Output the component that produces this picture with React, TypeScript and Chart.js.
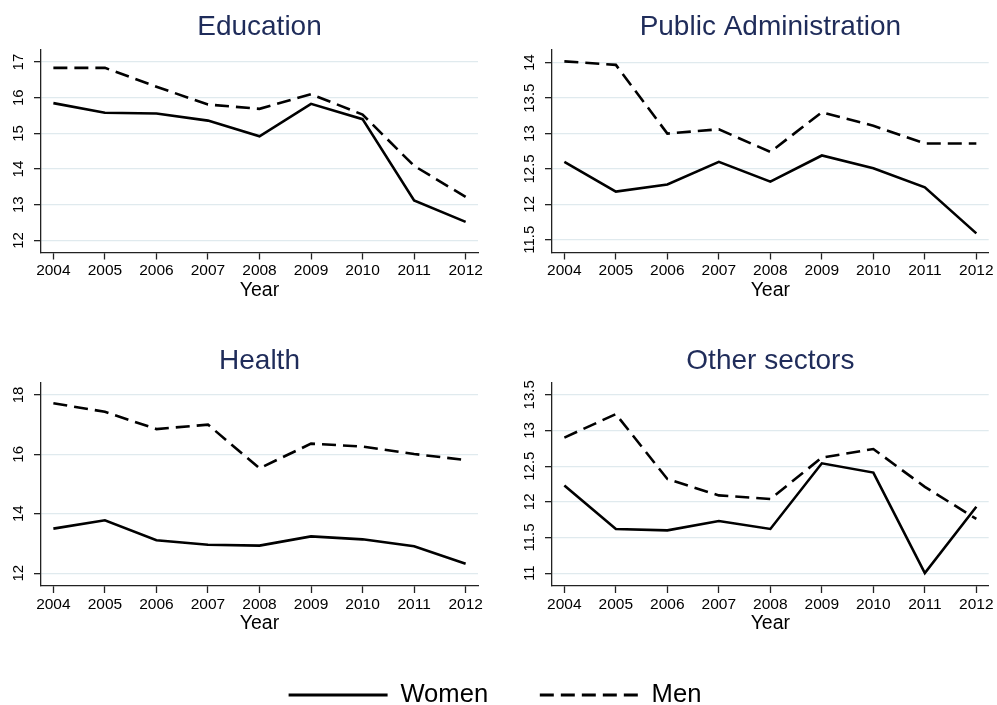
import React, { useEffect, useRef } from "react";
import { Chart, registerables } from "chart.js";

Chart.register(...registerables);

const FONT = "'Liberation Sans', Arial, Helvetica, sans-serif";
Chart.defaults.font.family = FONT;
Chart.defaults.color = "#000";

// ---------- data ----------
const years = [2004, 2005, 2006, 2007, 2008, 2009, 2010, 2011, 2012];
const seriesLabels = ["Women", "Men"];
const xAxisTitle = "Year";

const educationWomen = [15.85, 15.58, 15.56, 15.36, 14.92, 15.83, 15.4, 13.12, 12.52];
const educationMen = [16.84, 16.84, 16.31, 15.81, 15.69, 16.1, 15.53, 14.09, 13.22];
const educationTicks = [12, 13, 14, 15, 16, 17];

const publicAdminWomen = [12.6, 12.18, 12.28, 12.6, 12.32, 12.69, 12.51, 12.24, 11.59];
const publicAdminMen = [14.02, 13.97, 13.0, 13.06, 12.74, 13.3, 13.11, 12.86, 12.86];
const publicAdminTicks = [11.5, 12, 12.5, 13, 13.5, 14];

const healthWomen = [13.5, 13.78, 13.11, 12.96, 12.93, 13.24, 13.14, 12.91, 12.32];
const healthMen = [17.72, 17.43, 16.85, 17.0, 15.53, 16.36, 16.26, 16.01, 15.81];
const healthTicks = [12, 14, 16, 18];

const otherWomen = [12.23, 11.62, 11.6, 11.73, 11.62, 12.54, 12.41, 11.0, 11.93];
const otherMen = [12.9, 13.23, 12.32, 12.09, 12.04, 12.62, 12.74, 12.21, 11.76];
const otherTicks = [11, 11.5, 12, 12.5, 13, 13.5];

// ---------- styles ----------
const TITLE_COLOR = "#1f2c5a";
const GRID_COLOR = "#e0eaee";
const AXIS_COLOR = "#222";
const LINE_COLOR = "#000";
const DASH = [14, 7];
const seriesDash = [[], DASH];
const TITLE_SIZE = 28;
const XTICK_SIZE = 15.5;
const YTICK_SIZE = 15;
const XTITLE_SIZE = 19.5;
const TICK_LEN = 7;
const X_AXIS_H = 49.5;
const YLABEL_GAP = 22.5;
const X_MIN = 2003.76;
const X_MAX = 2012.24;

type Area = { left: number; right: number; top: number; bottom: number };
type PanelSpec = {
  title: string;
  women: number[];
  men: number[];
  ticks: number[];
  yMin: number;
  yMax: number;
  pos: { left: number; top: number; width: number; height: number };
  area: Area;
  titleBaseline: number;
};

const panels: PanelSpec[] = [
  {
    title: "Education",
    women: educationWomen,
    men: educationMen,
    ticks: educationTicks,
    yMin: 11.66,
    yMax: 17.34,
    pos: { left: 0, top: 0, width: 497, height: 320 },
    area: { left: 41, right: 478, top: 50, bottom: 252.5 },
    titleBaseline: 36.7,
  },
  {
    title: "Public Administration",
    women: publicAdminWomen,
    men: publicAdminMen,
    ticks: publicAdminTicks,
    yMin: 11.32,
    yMax: 14.18,
    pos: { left: 497, top: 0, width: 520, height: 320 },
    area: { left: 55, right: 491.7, top: 50, bottom: 252.5 },
    titleBaseline: 36.7,
  },
  {
    title: "Health",
    women: healthWomen,
    men: healthMen,
    ticks: healthTicks,
    yMin: 11.57,
    yMax: 18.41,
    pos: { left: 0, top: 330, width: 497, height: 320 },
    area: { left: 41, right: 478, top: 52.7, bottom: 256 },
    titleBaseline: 40.7,
  },
  {
    title: "Other sectors",
    women: otherWomen,
    men: otherMen,
    ticks: otherTicks,
    yMin: 10.82,
    yMax: 13.67,
    pos: { left: 497, top: 330, width: 520, height: 320 },
    area: { left: 55, right: 491.7, top: 52.7, bottom: 256 },
    titleBaseline: 40.7,
  },
];

function widestLabel(labels: string[], size: number): number {
  const ctx = document.createElement("canvas").getContext("2d");
  if (!ctx) return 0;
  ctx.font = `${size}px ${FONT}`;
  return Math.max(...labels.map((l) => ctx.measureText(l).width));
}

function Panel({ spec }: { spec: PanelSpec }) {
  const ref = useRef<HTMLCanvasElement | null>(null);
  useEffect(() => {
    if (!ref.current) return;
    const { area, pos } = spec;
    const tickLabels = spec.ticks.map((v) => String(v));
    const yPad = YLABEL_GAP - TICK_LEN - widestLabel(tickLabels, YTICK_SIZE) / 2;
    const titleLineH = TITLE_SIZE * 1.2;
    const titleMid = spec.titleBaseline - 0.3465 * TITLE_SIZE;
    const titlePadTop = titleMid - titleLineH / 2;
    const titlePadBottom = area.top - titlePadTop - titleLineH;

    const chart = new Chart(ref.current, {
      type: "line",
      data: {
        datasets: [
          {
            label: seriesLabels[0],
            data: years.map((y, i) => ({ x: y, y: spec.women[i] })),
            borderColor: LINE_COLOR,
            borderWidth: 2.6,
            borderDash: seriesDash[0],
            pointRadius: 0,
            tension: 0,
            fill: false,
          },
          {
            label: seriesLabels[1],
            data: years.map((y, i) => ({ x: y, y: spec.men[i] })),
            borderColor: LINE_COLOR,
            borderWidth: 2.6,
            borderDash: seriesDash[1],
            pointRadius: 0,
            tension: 0,
            fill: false,
          },
        ],
      },
      options: {
        animation: false,
        responsive: false,
        devicePixelRatio: 1,
        events: [],
        layout: {
          padding: {
            left: 0,
            right: pos.width - area.right,
            top: 0,
            bottom: pos.height - area.bottom - X_AXIS_H,
          },
        },
        plugins: {
          legend: { display: false },
          tooltip: { enabled: false },
          title: {
            display: true,
            text: spec.title,
            fullSize: false,
            color: TITLE_COLOR,
            font: { size: TITLE_SIZE, weight: "normal" },
            padding: { top: titlePadTop, bottom: titlePadBottom },
          },
        },
        scales: {
          x: {
            type: "linear",
            min: X_MIN,
            max: X_MAX,
            afterBuildTicks: (axis: any) => {
              axis.ticks = years.map((v) => ({ value: v }));
            },
            afterFit: (axis: any) => {
              axis.height = X_AXIS_H;
            },
            ticks: {
              autoSkip: false,
              maxRotation: 0,
              padding: 2,
              color: "#000",
              font: { size: XTICK_SIZE },
              callback: (v: any) => String(v),
            },
            grid: {
              drawOnChartArea: false,
              drawTicks: true,
              tickLength: TICK_LEN,
              tickColor: AXIS_COLOR,
              tickWidth: 1.3,
            },
            border: { display: true, color: AXIS_COLOR, width: 1.3 },
            title: {
              display: true,
              text: xAxisTitle,
              color: "#000",
              font: { size: XTITLE_SIZE },
              padding: { top: 0, bottom: 0 },
            },
          },
          y: {
            type: "linear",
            min: spec.yMin,
            max: spec.yMax,
            afterBuildTicks: (axis: any) => {
              axis.ticks = spec.ticks.map((v) => ({ value: v }));
            },
            afterFit: (axis: any) => {
              axis.width = area.left;
            },
            ticks: {
              autoSkip: false,
              minRotation: 90,
              maxRotation: 90,
              crossAlign: "center",
              padding: yPad,
              color: "#000",
              font: { size: YTICK_SIZE },
              callback: (v: any) => String(v),
            },
            grid: {
              drawOnChartArea: true,
              color: GRID_COLOR,
              lineWidth: 1.3,
              drawTicks: true,
              tickLength: TICK_LEN,
              tickColor: AXIS_COLOR,
              tickWidth: 1.3,
            },
            border: { display: true, color: AXIS_COLOR, width: 1.3 },
          },
        },
      } as any,
    });
    return () => chart.destroy();
  }, [spec]);

  return (
    <canvas
      ref={ref}
      width={spec.pos.width}
      height={spec.pos.height}
      style={{
        position: "absolute",
        left: spec.pos.left,
        top: spec.pos.top,
        width: spec.pos.width,
        height: spec.pos.height,
      }}
    />
  );
}

// legend canvas extends below the page and is clipped by the wrapper
const LEGEND_POS = { left: 0, top: 560, width: 990, height: 260 };
const LEGEND_FONT = 25.6;
const LEGEND_PAD = 51.7;
const LEGEND_CENTER_Y = 695;
const LEGEND_LINE_W = 99;

function Legend() {
  const ref = useRef<HTMLCanvasElement | null>(null);
  useEffect(() => {
    if (!ref.current) return;
    const padTop = LEGEND_CENTER_Y - LEGEND_POS.top - LEGEND_PAD - LEGEND_FONT / 2;
    const chart = new Chart(ref.current, {
      type: "line",
      data: {
        datasets: seriesLabels.map((label, i) => ({
          label,
          data: [],
          borderColor: LINE_COLOR,
          backgroundColor: LINE_COLOR,
          borderWidth: 3,
          borderDash: seriesDash[i],
        })),
      },
      options: {
        animation: false,
        responsive: false,
        devicePixelRatio: 1,
        events: [],
        layout: { padding: { top: padTop, left: 0, right: 0, bottom: 0 } },
        scales: { x: { display: false }, y: { display: false } },
        plugins: {
          tooltip: { enabled: false },
          title: { display: false },
          legend: {
            display: true,
            position: "top",
            align: "center",
            maxHeight: 180,
            labels: {
              usePointStyle: true,
              pointStyle: "line",
              pointStyleWidth: LEGEND_LINE_W,
              padding: LEGEND_PAD,
              color: "#000",
              font: { size: LEGEND_FONT },
              generateLabels: (c: any) =>
                (Chart as any).defaults.plugins.legend.labels
                  .generateLabels(c)
                  .map((item: any, i: number) => ({
                    ...item,
                    lineWidth: 3,
                    lineDash: seriesDash[i],
                    strokeStyle: LINE_COLOR,
                    lineCap: "butt",
                  })),
            },
          },
        },
      } as any,
    });
    return () => chart.destroy();
  }, []);
  return (
    <canvas
      ref={ref}
      width={LEGEND_POS.width}
      height={LEGEND_POS.height}
      style={{
        position: "absolute",
        left: LEGEND_POS.left,
        top: LEGEND_POS.top,
        width: LEGEND_POS.width,
        height: LEGEND_POS.height,
      }}
    />
  );
}

export default function App() {
  return (
    <div
      style={{
        position: "absolute",
        left: 0,
        top: 0,
        width: 997,
        height: 705,
        overflow: "hidden",
        background: "#fff",
      }}
    >
      {panels.map((p) => (
        <Panel key={p.title} spec={p} />
      ))}
      <Legend />
    </div>
  );
}
